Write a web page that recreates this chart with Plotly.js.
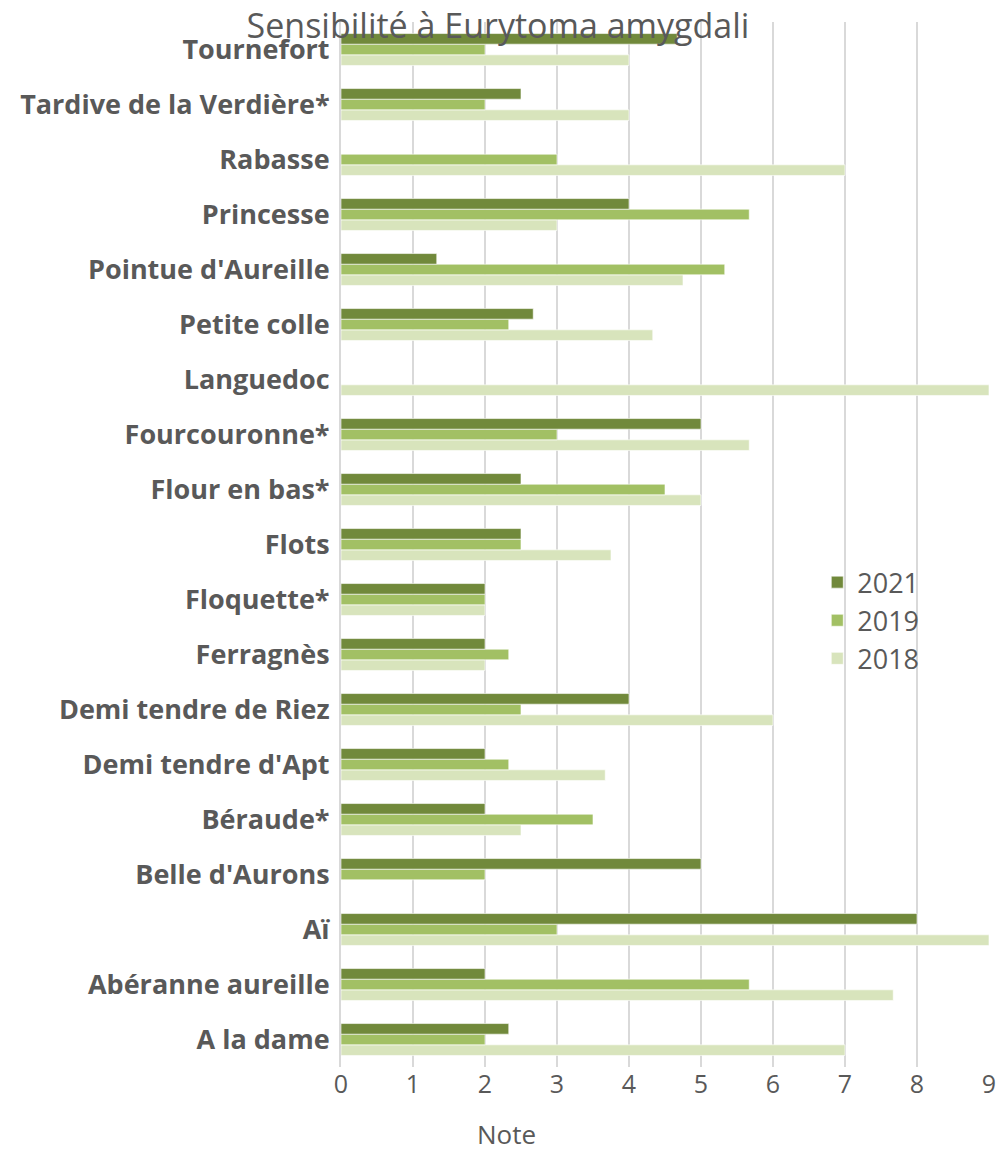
<!DOCTYPE html>
<html>
<head>
<meta charset="utf-8">
<script src="https://cdn.plot.ly/plotly-3.0.1.min.js"></script>
<style>html,body{margin:0;padding:0;background:#fff;}#chart{width:1000px;height:1151px;}</style>
</head>
<body>
<div id="chart"></div>
<script>
const categories = ["A la dame","Abéranne aureille","Aï","Belle d'Aurons","Béraude*","Demi tendre d'Apt","Demi tendre de Riez","Ferragnès","Floquette*","Flots","Flour en bas*","Fourcouronne*","Languedoc","Petite colle","Pointue d'Aureille","Princesse","Rabasse","Tardive de la Verdière*","Tournefort"];
const v2021 = [2.33, 2, 8, 5, 2, 2, 4, 2, 2, 2.5, 2.5, 5, null, 2.67, 1.33, 4, null, 2.5, 4.67];
const v2019 = [2, 5.67, 3, 2, 3.5, 2.33, 2.5, 2.33, 2, 2.5, 4.5, 3, null, 2.33, 5.33, 5.67, 3, 2, 2];
const v2018 = [7, 7.67, 9, null, 2.5, 3.67, 6, 2, 2, 3.75, 5, 5.67, 9, 4.33, 4.75, 3, 7, 4, 4];
const xTicks = [0,1,2,3,4,5,6,7,8,9];

const font = "Open Sans, Liberation Sans, sans-serif";
const grey = "#595959";
function tr(name, vals, color){
  return {type:'bar', orientation:'h', name:name, y:categories, x:vals,
    marker:{color:color, line:{color:'rgba(255,255,255,0.6)', width:1}}, hoverinfo:'x+y'};
}
const data = [tr('2018', v2018, '#D8E4BC'), tr('2019', v2019, '#A2C064'), tr('2021', v2021, '#71893B')];
const layout = {
  width:1000, height:1151,
  margin:{l:341, r:11, t:22, b:84},
  paper_bgcolor:'#fff', plot_bgcolor:'#fff',
  barmode:'group', bargap:0.42, bargroupgap:0,
  title:{text:'Sensibilité à Eurytoma amygdali', x:0.498, xanchor:'center', y:0.977, yanchor:'middle', font:{family:font, size:34, color:grey}},
  xaxis:{range:[0,9], tickvals:xTicks, ticktext:xTicks.map(String), showgrid:true, gridcolor:'#D9D9D9', gridwidth:2,
    zeroline:false, showline:false, ticks:'', tickfont:{family:font, size:25, color:grey}, automargin:false},
  yaxis:{type:'category', categoryorder:'array', categoryarray:categories, showgrid:false, zeroline:false,
    showline:true, linecolor:'#D9D9D9', linewidth:2, ticks:'', ticklabelstandoff:4,
    tickfont:{family:font, size:27, color:grey, weight:'bold'}, automargin:false},
  annotations:[{text:'Note', xref:'paper', yref:'paper', x:0.256, y:-0.064, xanchor:'center', yanchor:'middle', showarrow:false,
    font:{family:font, size:26, color:grey}}],
  showlegend:true,
  legend:{x:0.735, y:0.487, xanchor:'left', yanchor:'top', traceorder:'reversed', font:{family:font, size:27, color:grey}, bgcolor:'rgba(0,0,0,0)', itemwidth:30, tracegroupgap:0}
};
Plotly.newPlot('chart', data, layout, {displayModeBar:false, staticPlot:true});
</script>
</body>
</html>
